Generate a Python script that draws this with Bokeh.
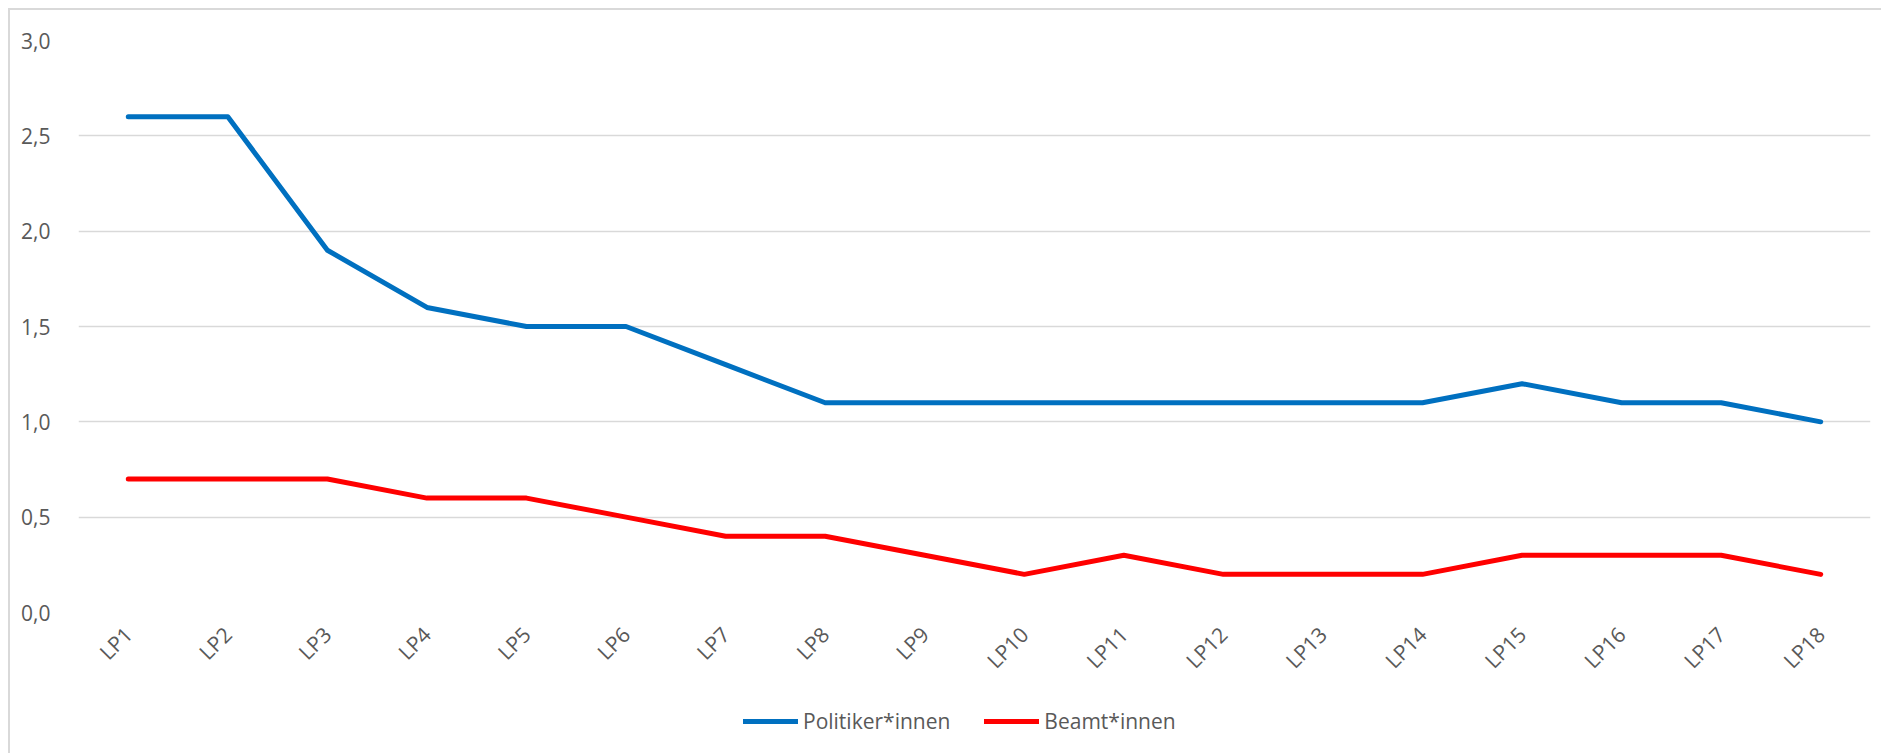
import math
from bokeh.plotting import figure
from bokeh.layouts import column
from bokeh.models import Range1d, FixedTicker, CustomJSTickFormatter, Legend, LegendItem
from bokeh.embed import file_html
from bokeh.resources import INLINE

categories = ["LP1", "LP2", "LP3", "LP4", "LP5", "LP6", "LP7", "LP8", "LP9",
              "LP10", "LP11", "LP12", "LP13", "LP14", "LP15", "LP16", "LP17", "LP18"]
politiker = [2.6, 2.6, 1.9, 1.6, 1.5, 1.5, 1.3, 1.1, 1.1, 1.1, 1.1, 1.1, 1.1, 1.1, 1.2, 1.1, 1.1, 1.0]
beamte = [0.7, 0.7, 0.7, 0.6, 0.6, 0.5, 0.4, 0.4, 0.3, 0.2, 0.3, 0.2, 0.2, 0.2, 0.3, 0.3, 0.3, 0.2]
y_ticks = [0.0, 0.5, 1.0, 1.5, 2.0, 2.5, 3.0]
series_names = ["Politiker*innen", "Beamt*innen"]
colors = ["#0070C0", "#FF0000"]

FONT = "Open Sans"
TXT = "#595959"
GRID = "#d9d9d9"
W = 1871

# main chart
p = figure(x_range=categories, y_range=Range1d(0, 3), width=W, height=680,
           output_backend="svg", toolbar_location=None,
           min_border_left=68, min_border_right=11, min_border_top=30, min_border_bottom=78)
p.outline_line_color = None
p.xgrid.grid_line_color = None
p.ygrid.grid_line_color = GRID
p.ygrid.grid_line_width = 1.5

p.yaxis.ticker = FixedTicker(ticks=y_ticks)
p.yaxis.formatter = CustomJSTickFormatter(code="return tick.toFixed(1).replace('.', ',');")
for ax in (p.xaxis[0], p.yaxis[0]):
    ax.axis_line_color = None
    ax.major_tick_line_color = None
    ax.minor_tick_line_color = None
    ax.major_label_text_font = FONT
    ax.major_label_text_font_size = "21px"
    ax.major_label_text_color = TXT
p.yaxis.major_label_standoff = 22
p.xaxis.major_label_orientation = math.pi / 4
p.xaxis.major_label_standoff = 12

for vals, col in zip([politiker, beamte], colors):
    p.line(categories, vals, line_color=col, line_width=5, line_cap="round", line_join="round")

# legend strip below (series drawn outside the visible range, only used for legend glyphs)
q = figure(x_range=categories, y_range=Range1d(100, 101), width=W, height=63,
           output_backend="svg", toolbar_location=None,
           x_axis_location=None, y_axis_location=None,
           min_border=0, min_border_left=0, min_border_right=0, min_border_top=0, min_border_bottom=0)
q.outline_line_color = None
q.xgrid.visible = False
q.ygrid.visible = False
items = []
for vals, col, name in zip([politiker, beamte], colors, series_names):
    r = q.line(categories, vals, line_color=col, line_width=5, line_cap="round")
    items.append(LegendItem(label=name, renderers=[r]))
legend = Legend(items=items, orientation="horizontal", location=(665, 18),
                label_text_font=FONT, label_text_font_size="21px", label_text_color=TXT,
                glyph_width=55, glyph_height=20, label_standoff=5, spacing=34,
                border_line_color=None, background_fill_alpha=0, margin=0, padding=0)
q.add_layout(legend, "center")

layout = column(p, q, spacing=0,
                styles={"border-left": "2px solid #d9d9d9", "border-top": "2px solid #d9d9d9",
                        "margin-left": "8px", "margin-top": "8px"})

open("out.html", "w").write(file_html(layout, INLINE))
